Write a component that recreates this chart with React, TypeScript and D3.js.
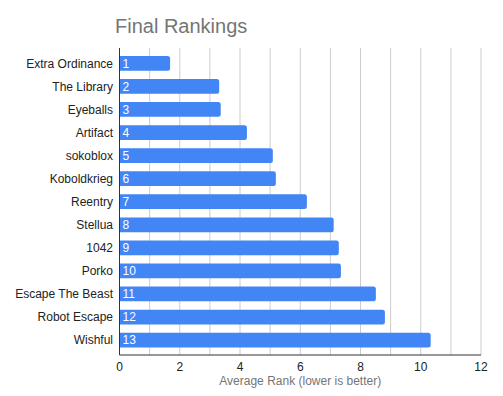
import React from "react";
import * as d3 from "d3";

const categories = [
  "Extra Ordinance", "The Library", "Eyeballs", "Artifact", "sokoblox", "Koboldkrieg",
  "Reentry", "Stellua", "1042", "Porko", "Escape The Beast", "Robot Escape", "Wishful",
];
const values = [1.68, 3.31, 3.36, 4.23, 5.09, 5.19, 6.22, 7.11, 7.28, 7.35, 8.51, 8.81, 10.33];
const rankLabels = ["1", "2", "3", "4", "5", "6", "7", "8", "9", "10", "11", "12", "13"];
const xTicks = [0, 2, 4, 6, 8, 10, 12];
const gridValues = [1, 2, 3, 4, 5, 6, 7, 8, 9, 10, 11, 12];

const W = 503, H = 396;
const left = 119.5, right = 481, top = 48, bottom = 355;
const font = "Liberation Sans, Arial, sans-serif";

export default function App() {
  const x = d3.scaleLinear().domain([0, 12]).range([left, right]);
  const y = d3.scaleBand<string>().domain(categories).range([51.8, 351.6]).paddingInner(0.36).paddingOuter(0.18);
  const bh = y.bandwidth();
  const r = 2.5;
  const barPath = (v: number, c: string) => {
    const x0 = x(0), x1 = x(v), y0 = y(c)!, y1 = y0 + bh;
    return `M${x0},${y0}H${x1 - r}Q${x1},${y0} ${x1},${y0 + r}V${y1 - r}Q${x1},${y1} ${x1 - r},${y1}H${x0}Z`;
  };
  return (
    <svg width={W} height={H} style={{ position: "absolute", left: 0, top: 0, background: "#fff" }}>
      <text x={115} y={33} fontFamily={font} fontSize={20} fill="#757575">Final Rankings</text>
      {gridValues.map((g) => (
        <line key={g} x1={x(g)} x2={x(g)} y1={top} y2={bottom} stroke="#cccccc" strokeWidth={1} />
      ))}
      {categories.map((c, i) => (
        <g key={c}>
          <path d={barPath(values[i], c)} fill="#4285f4" />
          <text x={122.5} y={y(c)! + bh / 2} dy="0.35em" fontFamily={font} fontSize={12} fill="#ffffff">
            {rankLabels[i]}
          </text>
          <text x={113} y={y(c)! + bh / 2} dy="0.35em" textAnchor="end" fontFamily={font} fontSize={12} fill="#222222">
            {c}
          </text>
        </g>
      ))}
      <line x1={left} x2={left} y1={top} y2={bottom} stroke="#333333" strokeWidth={1} />
      <line x1={left} x2={right} y1={bottom} y2={bottom} stroke="#333333" strokeWidth={1} />
      {xTicks.map((t) => (
        <text key={t} x={x(t)} y={371} textAnchor="middle" fontFamily={font} fontSize={12} fill="#222222">{t}</text>
      ))}
      <text x={(left + right) / 2} y={385} textAnchor="middle" fontFamily={font} fontSize={12} fill="#757575">
        Average Rank (lower is better)
      </text>
    </svg>
  );
}
